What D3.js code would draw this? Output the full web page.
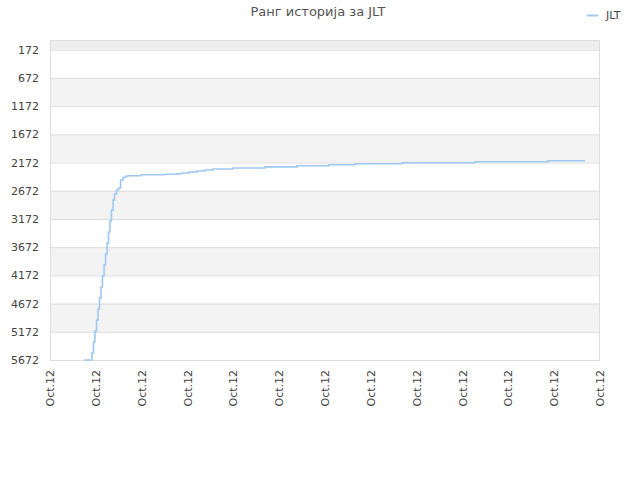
<!DOCTYPE html>
<html><head><meta charset="utf-8">
<script src="https://cdn.jsdelivr.net/npm/d3@7"></script>
<style>body{margin:0;background:#fff}svg{font-family:"DejaVu Sans",sans-serif}</style>
</head><body>
<svg id="c" width="640" height="480"></svg>
<script>
const title = "Ранг историја за JLT";
const seriesName = "JLT";
// day offsets (fractional days from Oct 1 2012) and rank values
const days = [1.87,2.29,2.37,2.45,2.54,2.62,2.70,2.78,2.86,2.95,3.03,3.11,3.19,3.27,3.35,3.44,3.52,3.63,3.74,3.85,3.98,4.12,4.25,4.96,6.27,6.93,7.20,7.58,8.02,8.45,8.89,9.98,11.73,13.47,15.22,16.64,19.20,23.18,27.16,29.18];
const ranks = [5672,5548,5353,5158,4963,4768,4573,4378,4183,3988,3793,3598,3403,3208,3013,2836,2730,2659,2623,2481,2437,2416,2405,2388,2379,2370,2357,2340,2322,2304,2287,2269,2248,2230,2212,2194,2176,2159,2141,2141];
const yTicks = [172,672,1172,1672,2172,2672,3172,3672,4172,4672,5172,5672];
const xTickLabels = ["Oct.12","Oct.12","Oct.12","Oct.12","Oct.12","Oct.12","Oct.12","Oct.12","Oct.12","Oct.12","Oct.12","Oct.12","Oct.12"];

const svg = d3.select("#c");
const L=50,R=600,T=40,B=360;
const x = d3.scaleLinear().domain([0,30]).range([L,R]);
const y = d3.scaleLinear().domain([0,5672]).range([T,B]);

// bands
const bandEdges = [0].concat(yTicks);
for(let i=0;i<bandEdges.length-1;i++){
  const a=bandEdges[i], b=bandEdges[i+1];
  const idxFromBottom = yTicks.length-1-i; // band ending at tick i
  let fill;
  if(i===0) fill="#eeeeee";
  else fill = ((yTicks.length-1-i)%2===0) ? "#ffffff" : "#f3f3f3";
  svg.append("rect").attr("x",L).attr("y",y(a)).attr("width",R-L).attr("height",y(b)-y(a)).attr("fill",fill);
}
// grid lines
svg.selectAll(".g").data(yTicks).enter().append("line")
  .attr("x1",L).attr("x2",R).attr("y1",d=>y(d)+0.5).attr("y2",d=>y(d)+0.5)
  .attr("stroke","#dddddd");
svg.append("rect").attr("x",L+0.5).attr("y",T+0.5).attr("width",R-L-1).attr("height",B-T)
  .attr("fill","none").attr("stroke","#dddddd");

// y labels
svg.selectAll(".yl").data(yTicks).enter().append("text")
  .attr("x",L-11).attr("y",d=>y(d)+4).attr("text-anchor","end")
  .attr("font-size",11).attr("fill","#444").text(d=>d);

// x labels
const xt = d3.range(13).map(i=>i*2.5);
svg.selectAll(".xl").data(xt).enter().append("text")
  .attr("transform",(d)=>`translate(${x(d)+4},${B+10}) rotate(-90)`)
  .attr("text-anchor","end").attr("font-size",11).attr("fill","#444")
  .text((d,i)=>xTickLabels[i]);

// line
const pts = days.map((d,i)=>[d,ranks[i]]);
const line = d3.line().x(d=>x(d[0])).y(d=>y(d[1])).curve(d3.curveStepAfter);
svg.append("path").attr("d",line(pts)).attr("fill","none")
  .attr("stroke","#9ec8f3").attr("stroke-width",1.6);

// title
svg.append("text").attr("x",318).attr("y",16).attr("text-anchor","middle")
  .attr("font-size",13).attr("fill","#555").text(title);
// legend
svg.append("line").attr("x1",587).attr("x2",598).attr("y1",15.5).attr("y2",15.5)
  .attr("stroke","#9ec8f3").attr("stroke-width",2);
svg.append("text").attr("x",606).attr("y",19).attr("font-size",11).attr("fill","#444").text(seriesName);
</script>
</body></html>
